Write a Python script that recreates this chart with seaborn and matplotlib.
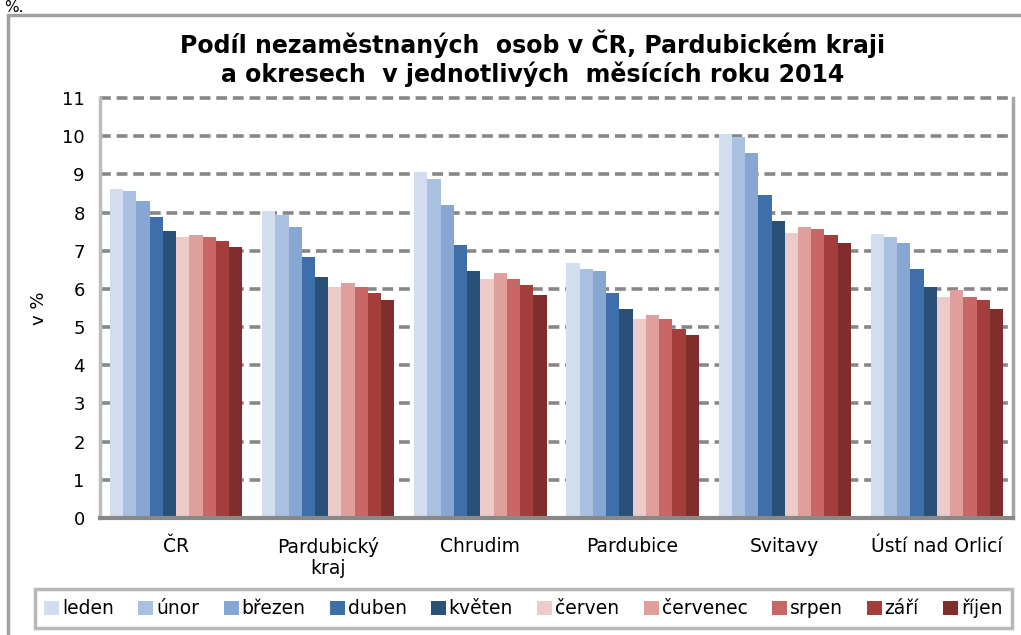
import numpy as np
import pandas as pd
import matplotlib
matplotlib.use('Agg')
import matplotlib.pyplot as plt
import seaborn as sb
from matplotlib.patches import Rectangle, Patch

regions = ['ČR', 'Pardubický\nkraj', 'Chrudim', 'Pardubice', 'Svitavy', 'Ústí nad Orlicí']
months = ['leden', 'únor', 'březen', 'duben', 'květen', 'červen', 'červenec', 'srpen', 'září', 'říjen']
colors = ['#D2DEEF', '#AAC0E0', '#87A7D2', '#3E6FAA', '#2B5078',
          '#EDCBCA', '#E09E9D', '#C86766', '#A43E3B', '#7F2E2C']

cr = [8.61, 8.56, 8.30, 7.88, 7.51, 7.37, 7.41, 7.37, 7.25, 7.10]
pardubicky = [8.04, 7.93, 7.63, 6.83, 6.32, 6.06, 6.16, 6.06, 5.90, 5.70]
chrudim = [9.07, 8.87, 8.20, 7.15, 6.46, 6.26, 6.42, 6.26, 6.11, 5.85]
pardubice = [6.68, 6.53, 6.47, 5.90, 5.48, 5.22, 5.32, 5.22, 4.96, 4.80]
svitavy = [10.07, 9.97, 9.55, 8.45, 7.78, 7.46, 7.62, 7.58, 7.41, 7.20]
usti = [7.45, 7.37, 7.20, 6.52, 6.06, 5.79, 5.96, 5.79, 5.70, 5.48]

rows = []
for reg, vals in zip(regions, [cr, pardubicky, chrudim, pardubice, svitavy, usti]):
    for m, v in zip(months, vals):
        rows.append({'region': reg, 'month': m, 'value': v})
df = pd.DataFrame(rows)

sb.set_style('white')
plt.rcParams['font.family'] = ['DejaVu Sans']
plt.rcParams['text.color'] = 'black'
plt.rcParams['axes.labelcolor'] = 'black'
plt.rcParams['xtick.labelcolor'] = 'black'
plt.rcParams['ytick.labelcolor'] = 'black'

fig = plt.figure(figsize=(10.21, 6.35), dpi=100)
ax = fig.add_axes([100 / 1021, 1 - 518 / 635, 913 / 1021, (518 - 98) / 635])

sb.barplot(data=df, x='region', y='value', hue='month', order=regions,
           hue_order=months, palette=colors, width=0.87, saturation=1,
           linewidth=0, ax=ax, legend=False)

ax.set_xlim(-0.5, 5.5)
ax.set_ylim(0, 11)
ax.set_yticks(range(0, 12))
ax.set_yticklabels([str(i) for i in range(0, 12)], fontsize=13)
ax.yaxis.grid(True, linestyle=(0, (3, 1.6)), color='#878787', linewidth=2.6)
for gl in ax.get_ygridlines():
    gl.set_clip_on(False)
ax.set_axisbelow(True)
ax.set_xlabel('')
ax.set_ylabel('v %', fontsize=13, labelpad=10)

ax.set_xticks(np.arange(6))
ax.set_xticklabels(regions, fontsize=13.5, linespacing=1.1)
ax.tick_params(axis='x', length=0, pad=14)
ax.set_xticks(np.arange(-0.5, 6, 1), minor=True)
ax.tick_params(axis='x', which='minor', length=5, width=2, color='#888888', direction='out')
ax.tick_params(axis='y', length=5, width=2, color='#a6a6a6', direction='out', pad=6)

ax.spines['top'].set_visible(False)
ax.spines['left'].set_color('#bdbdbd')
ax.spines['left'].set_linewidth(2.5)
ax.spines['right'].set_color('#a6a6a6')
ax.spines['right'].set_linewidth(2.5)
ax.spines['bottom'].set_color('#888888')
ax.spines['bottom'].set_linewidth(3)

fig.text(0.522, 1 - 58 / 635, 'Podíl nezaměstnaných  osob v ČR, Pardubickém kraji\n'
         'a okresech  v jednotlivých  měsících roku 2014',
         ha='center', va='center', fontsize=17, fontweight='bold', linespacing=1.15)

fig.text(0.004, 1.0, '%.', ha='left', va='top', fontsize=11)

frame = Rectangle((8 / 1021, -0.01), 1.05, 1 - 15 / 635 + 0.01, transform=fig.transFigure,
                  fill=False, edgecolor='#a0a0a0', linewidth=2.5)
fig.patches.append(frame)

handles = [Patch(facecolor=c, edgecolor='none') for c in colors]
leg = fig.legend(handles, months, loc='center',
                 bbox_to_anchor=(35 / 1021, 1 - 632 / 635, 977 / 1021, 47 / 635), mode='expand',
                 ncol=10, fontsize=13.5, frameon=True, fancybox=False,
                 handlelength=0.8, handleheight=0.8, handletextpad=0.15,
                 columnspacing=0.8, borderpad=0.5, borderaxespad=0)
leg.get_frame().set_edgecolor('#a6a6a6')
leg.get_frame().set_linewidth(2.5)

fig.savefig('out.png', dpi=100)
